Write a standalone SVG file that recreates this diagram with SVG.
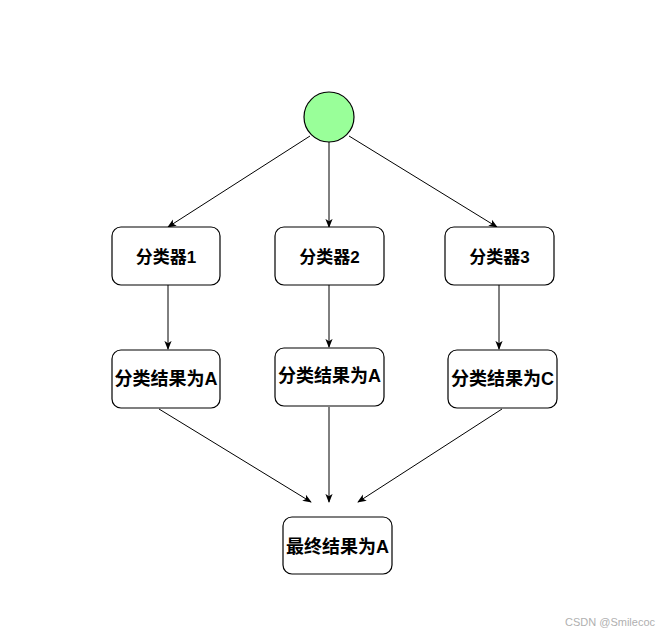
<svg xmlns="http://www.w3.org/2000/svg" width="667" height="636" viewBox="0 0 667 636">
<style>
.box{fill:#fff;stroke:#000;stroke-width:1.2}
.lbl{font-family:"Liberation Sans","Noto Sans CJK SC",sans-serif;font-weight:bold;font-size:17px;fill:#000;text-anchor:middle;dominant-baseline:central}
.res{font-size:18px}
.edge{fill:none;stroke:#000;stroke-width:1;marker-end:url(#ah)}
</style>
<defs>
<marker id="ah" viewBox="0 0 10 10" refX="9" refY="5" markerWidth="9" markerHeight="9" markerUnits="userSpaceOnUse" orient="auto">
<path d="M0,1 L10,5 L0,9 L2.5,5 Z" fill="#000"/>
</marker>
</defs>
<rect width="667" height="636" fill="#fff"/>
<g id="edges">
<line class="edge" x1="310" y1="136" x2="168" y2="227"/>
<line class="edge" x1="329" y1="142" x2="329" y2="227"/>
<line class="edge" x1="349" y1="136" x2="497" y2="227"/>
<line class="edge" x1="168" y1="285" x2="168" y2="349"/>
<line class="edge" x1="329" y1="285" x2="329" y2="347"/>
<line class="edge" x1="499" y1="285" x2="499" y2="349"/>
<line class="edge" x1="159" y1="409" x2="311" y2="502"/>
<line class="edge" x1="329" y1="407" x2="329" y2="502"/>
<line class="edge" x1="502" y1="409" x2="358" y2="502"/>
</g>
<g id="start"><circle cx="329" cy="117" r="25" fill="#99ff99" stroke="#000" stroke-width="1.2"/></g>
<g id="c1"><rect class="box" x="112" y="227" width="108" height="58" rx="9"/><text class="lbl" x="166" y="257">分类器1</text></g>
<g id="c2"><rect class="box" x="275" y="227" width="109" height="58" rx="9"/><text class="lbl" x="329.5" y="257">分类器2</text></g>
<g id="c3"><rect class="box" x="445" y="227" width="109" height="58" rx="9"/><text class="lbl" x="499.5" y="257">分类器3</text></g>
<g id="r1"><rect class="box" x="112" y="350" width="108" height="58" rx="9"/><text class="lbl res" x="166" y="379">分类结果为A</text></g>
<g id="r2"><rect class="box" x="275" y="348" width="109" height="58" rx="9"/><text class="lbl res" x="329.5" y="376">分类结果为A</text></g>
<g id="r3"><rect class="box" x="448" y="350" width="109" height="58" rx="9"/><text class="lbl res" x="502.5" y="379">分类结果为C</text></g>
<g id="final"><rect class="box" x="283" y="517" width="109" height="57" rx="9"/><text class="lbl res" x="337.5" y="547">最终结果为A</text></g>
<text x="610" y="622" font-family="Liberation Sans,sans-serif" font-size="11" fill="#b0b0b0" text-anchor="middle" dominant-baseline="central">CSDN @Smilecoc</text>
</svg>
